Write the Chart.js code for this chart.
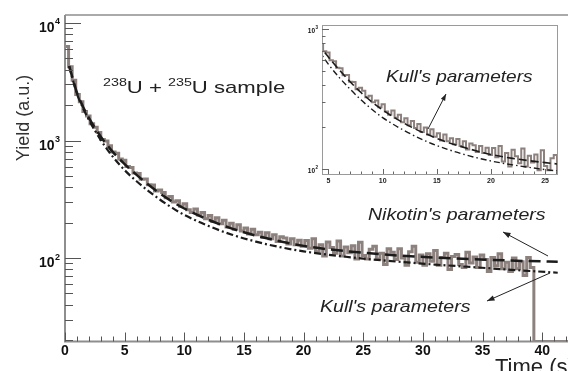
<!DOCTYPE html>
<html>
<head>
<meta charset="utf-8">
<script src="https://cdn.jsdelivr.net/npm/chart.js@4"></script>
<style>
  html, body { margin: 0; padding: 0; background: #fff; overflow: hidden; }
  #wrap { position: relative; width: 568px; height: 371px; overflow: hidden; }
  #cMain { position: absolute; left: 0; top: 0; }
  #cInset { position: absolute; left: 290px; top: 0; }
</style>
</head>
<body>
<div id="wrap">
  <canvas id="cMain" width="600" height="371"></canvas>
  <canvas id="cInset" width="278" height="200"></canvas>
</div>
<script>
// ── Datos ─────────────────────────────────────────────────────────
const BIN = 0.3; // ancho de bin (s)
const counts = [
  6300, 4250, 3260, 2460, 2140, 1770, 1620, 1390, 1300, 1170,
  1020, 990, 905, 800, 780, 695, 680, 600, 590, 530,
  525, 468, 470, 420, 418, 372, 380, 362, 326, 334,
  300, 308, 276, 290, 258, 244, 262, 232, 244, 216,
  230, 205, 220, 196, 210, 184, 198, 176, 192, 170,
  180, 160, 176, 158, 166, 150, 164, 146, 158, 138,
  152, 148, 132, 146, 130, 142, 126, 141, 121, 146,
  113, 130, 104, 137, 123, 110, 140, 104, 124, 111,
  127, 98, 136, 105, 98, 119, 126, 98, 110, 88,
  120, 112, 97, 120, 100, 87, 113, 126, 92, 106,
  87, 109, 94, 116, 87, 101, 110, 80, 103, 107,
  88, 83, 112, 91, 102, 83, 106, 97, 77, 101,
  86, 109, 81, 92, 77, 100, 81, 93, 71, 101,
  83
];
const nikT = [0.35, 0.6, 1, 1.5, 2, 3, 4, 5, 6, 7, 8, 9, 10, 12, 14, 16, 18, 20, 22, 25, 28, 31, 34, 37, 41.3];
const nikY = [4300, 3500, 2550, 1950, 1560, 1080, 800, 630, 510, 420, 352, 302, 264, 212, 178, 155, 139, 127, 119, 111, 105, 101, 98, 95.5, 93];
const kullT = [0.35, 0.6, 1, 1.5, 2, 3, 4, 5, 6, 7, 8, 9, 10, 12, 14, 16, 18, 20, 22, 25, 28, 31, 34, 37, 41.3];
const kullY = [4300, 3450, 2500, 1900, 1500, 1010, 730, 560, 450, 372, 312, 267, 233, 188, 158, 138, 124, 114, 107, 99, 93, 88, 84, 80, 75];

const xTicksMain = [0, 5, 10, 15, 20, 25, 30, 35, 40];
const xTicksInset = [5, 10, 15, 20, 25];
const X_MIN = 0, X_MAX = 43, Y_MIN = 19.5, Y_MAX = 11700;
const IX_MIN = 4.4, IX_MAX = 26.1, IY_MIN = 92, IY_MAX = 1070;

const GRAY = '#8d817e';
const FONT = '"Liberation Sans", Arial, sans-serif';

// ── Series para Chart.js ──────────────────────────────────────────
function histPoints() {
  const pts = counts.map((v, i) => ({ x: i * BIN, y: v }));
  const end = counts.length * BIN;
  pts.push({ x: end, y: counts[counts.length - 1] });
  pts.push({ x: end, y: Y_MIN });
  pts.push({ x: X_MAX, y: Y_MIN });
  return pts;
}
const zip = (ts, ys) => ts.map((t, i) => ({ x: t, y: ys[i] }));

function datasets(small) {
  return [
    { data: histPoints(), order: 3, stepped: 'before', borderColor: GRAY, borderWidth: small ? 2 : 3, pointRadius: 0, fill: false },
    { data: zip(nikT, nikY), order: 1, borderColor: '#1b1b1b', borderWidth: small ? 1.6 : 2.5, borderDash: small ? [8, 4] : [12, 6], pointRadius: 0, cubicInterpolationMode: 'monotone', fill: false },
    { data: zip(kullT, kullY), order: 2, borderColor: '#1b1b1b', borderWidth: small ? 1.4 : 2.2, borderDash: small ? [6, 3, 1.5, 3] : [7, 3, 2, 3], pointRadius: 0, cubicInterpolationMode: 'monotone', fill: false },
  ];
}

// ── Utilidades de dibujo ──────────────────────────────────────────
function txt(ctx, s, x, y, font, sx, align) {
  ctx.save();
  ctx.font = font;
  ctx.textAlign = align || 'left';
  ctx.translate(x, y);
  ctx.scale(sx || 1, 1);
  ctx.fillText(s, 0, 0);
  ctx.restore();
}
function arrow(ctx, x1, y1, x2, y2, head) {
  const a = Math.atan2(y2 - y1, x2 - x1);
  ctx.beginPath(); ctx.moveTo(x1, y1); ctx.lineTo(x2, y2); ctx.stroke();
  ctx.beginPath();
  ctx.moveTo(x2, y2);
  ctx.lineTo(x2 - head * Math.cos(a - 0.35), y2 - head * Math.sin(a - 0.35));
  ctx.lineTo(x2 - head * Math.cos(a + 0.35), y2 - head * Math.sin(a + 0.35));
  ctx.closePath(); ctx.fill();
}
function powLabel(ctx, exp, xr, yc, big, sup) {
  ctx.save();
  ctx.fillStyle = '#111';
  ctx.textAlign = 'left';
  ctx.textBaseline = 'alphabetic';
  ctx.font = 'bold ' + sup + 'px ' + FONT;
  const ws = ctx.measureText(String(exp)).width;
  ctx.fillText(String(exp), xr - ws, yc - big * 0.18);
  ctx.font = 'bold ' + big + 'px ' + FONT;
  const wb = ctx.measureText('10').width;
  ctx.fillText('10', xr - ws - wb - 0.5, yc + big * 0.36);
  ctx.restore();
}

// ── Decoracion del grafico principal ──────────────────────────────
const mainDecor = {
  id: 'mainDecor',
  afterDraw(chart) {
    const { ctx, chartArea: a, scales: { x, y } } = chart;
    ctx.save();
    // marco
    ctx.strokeStyle = '#8e8e8e';
    ctx.lineWidth = 1.5;
    ctx.beginPath(); ctx.moveTo(a.left, a.top); ctx.lineTo(a.right, a.top); ctx.stroke();
    ctx.lineWidth = 2;
    ctx.beginPath(); ctx.moveTo(a.left, a.top); ctx.lineTo(a.left, a.bottom); ctx.lineTo(a.right, a.bottom); ctx.stroke();
    // ticks x
    ctx.strokeStyle = '#555'; ctx.lineWidth = 1;
    for (let t = X_MIN; t <= X_MAX; t++) {
      const px = Math.round(x.getPixelForValue(t)) + 0.5;
      const len = t % 5 === 0 ? 9 : 5;
      ctx.beginPath(); ctx.moveTo(px, a.bottom); ctx.lineTo(px, a.bottom - len); ctx.stroke();
    }
    // ticks y
    for (let d = 10; d <= 10000; d *= 10) {
      for (let k = 1; k <= 9; k++) {
        const v = k * d;
        if (v < Y_MIN || v > Y_MAX) continue;
        const py = Math.round(y.getPixelForValue(v)) + 0.5;
        const len = k === 1 ? 16 : 8;
        ctx.beginPath(); ctx.moveTo(a.left, py); ctx.lineTo(a.left + len, py); ctx.stroke();
      }
    }
    // etiquetas
    ctx.fillStyle = '#111';
    ctx.font = 'bold 14px ' + FONT;
    ctx.textAlign = 'center';
    xTicksMain.forEach(t => ctx.fillText(String(t), x.getPixelForValue(t), a.bottom + 13));
    ctx.textAlign = 'left';
    [2, 3, 4].forEach(e => powLabel(ctx, e, 60, y.getPixelForValue(Math.pow(10, e)) + 4, 14, 9));
    // titulos
    ctx.fillStyle = '#333';
    ctx.save();
    ctx.translate(29, 118); ctx.rotate(-Math.PI / 2);
    ctx.font = '18px ' + FONT; ctx.textAlign = 'center';
    ctx.fillText('Yield (a.u.)', 0, 0);
    ctx.restore();
    ctx.fillStyle = '#222';
    txt(ctx, 'Time (s)', 495, 374, '22px ' + FONT, 1, 'left');
    // muestra
    let cx = 103;
    const parts = [['238', 11, -7], ['U + ', 17, 0], ['235', 11, -7], ['U sample', 17, 0]];
    parts.forEach(([s, f, dy]) => {
      ctx.save();
      ctx.font = f + 'px ' + FONT;
      ctx.textAlign = 'left';
      ctx.fillStyle = '#222';
      ctx.translate(cx, 93 + dy); ctx.scale(1.3, 1);
      ctx.fillText(s, 0, 0);
      cx += ctx.measureText(s).width * 1.3;
      ctx.restore();
    });
    // anotaciones
    ctx.fillStyle = '#222';
    txt(ctx, "Nikotin's parameters", 368, 220, 'italic 17px ' + FONT, 1.15);
    txt(ctx, "Kull's parameters", 320, 312, 'italic 17px ' + FONT, 1.15);
    ctx.strokeStyle = '#222'; ctx.fillStyle = '#222'; ctx.lineWidth = 1;
    arrow(ctx, 548, 256, 503, 232, 8);
    arrow(ctx, 550, 273, 487, 301, 8);
    ctx.restore();
  }
};

// ── Decoracion del recuadro ───────────────────────────────────────
const insetDecor = {
  id: 'insetDecor',
  afterDraw(chart) {
    const { ctx, chartArea: a, scales: { x, y } } = chart;
    ctx.save();
    ctx.strokeStyle = '#9a9a9a'; ctx.lineWidth = 1;
    ctx.strokeRect(a.left + 0.5, a.top + 0.5, a.right - a.left, a.bottom - a.top);
    ctx.strokeStyle = '#666';
    for (let t = 5; t <= 26; t++) {
      const px = Math.round(x.getPixelForValue(t)) + 0.5;
      const len = t % 5 === 0 ? 5 : 2.5;
      ctx.beginPath(); ctx.moveTo(px, a.bottom); ctx.lineTo(px, a.bottom - len); ctx.stroke();
    }
    for (let d = 10; d <= 1000; d *= 10) {
      for (let k = 1; k <= 9; k++) {
        const v = k * d;
        if (v < IY_MIN || v > IY_MAX) continue;
        const py = Math.round(y.getPixelForValue(v)) + 0.5;
        const len = k === 1 ? 7 : 3.5;
        ctx.beginPath(); ctx.moveTo(a.left, py); ctx.lineTo(a.left + len, py); ctx.stroke();
      }
    }
    ctx.fillStyle = '#222';
    ctx.font = 'bold 7px ' + FONT;
    ctx.textAlign = 'center';
    xTicksInset.forEach(t => ctx.fillText(String(t), x.getPixelForValue(t), a.bottom + 9));
    [2, 3].forEach(e => powLabel(ctx, e, a.left - 4, y.getPixelForValue(Math.pow(10, e)) + 1.5, 6.5, 4.5));
    ctx.fillStyle = '#222';
    txt(ctx, "Kull's parameters", 96, 82, 'italic 17px ' + FONT, 1.12);
    ctx.strokeStyle = '#222'; ctx.lineWidth = 1;
    arrow(ctx, 138, 129, 156, 94, 7);
    ctx.restore();
  }
};

// ── Graficos ──────────────────────────────────────────────────────
Chart.defaults.font.family = FONT;

new Chart(document.getElementById('cMain'), {
  type: 'line',
  data: { datasets: datasets(false) },
  options: {
    responsive: false, animation: false, events: [],
    layout: { padding: { left: 65, top: 15, right: 22, bottom: 29.5 } },
    plugins: { legend: { display: false }, tooltip: { enabled: false } },
    scales: {
      x: { type: 'linear', min: X_MIN, max: X_MAX, display: false },
      y: { type: 'logarithmic', min: Y_MIN, max: Y_MAX, display: false },
    },
  },
  plugins: [mainDecor],
});

new Chart(document.getElementById('cInset'), {
  type: 'line',
  data: { datasets: datasets(true) },
  options: {
    responsive: false, animation: false, events: [],
    layout: { padding: { left: 32, top: 25, right: 11, bottom: 26 } },
    plugins: { legend: { display: false }, tooltip: { enabled: false } },
    scales: {
      x: { type: 'linear', min: IX_MIN, max: IX_MAX, display: false },
      y: { type: 'logarithmic', min: IY_MIN, max: IY_MAX, display: false },
    },
  },
  plugins: [insetDecor],
});
</script>
</body>
</html>
